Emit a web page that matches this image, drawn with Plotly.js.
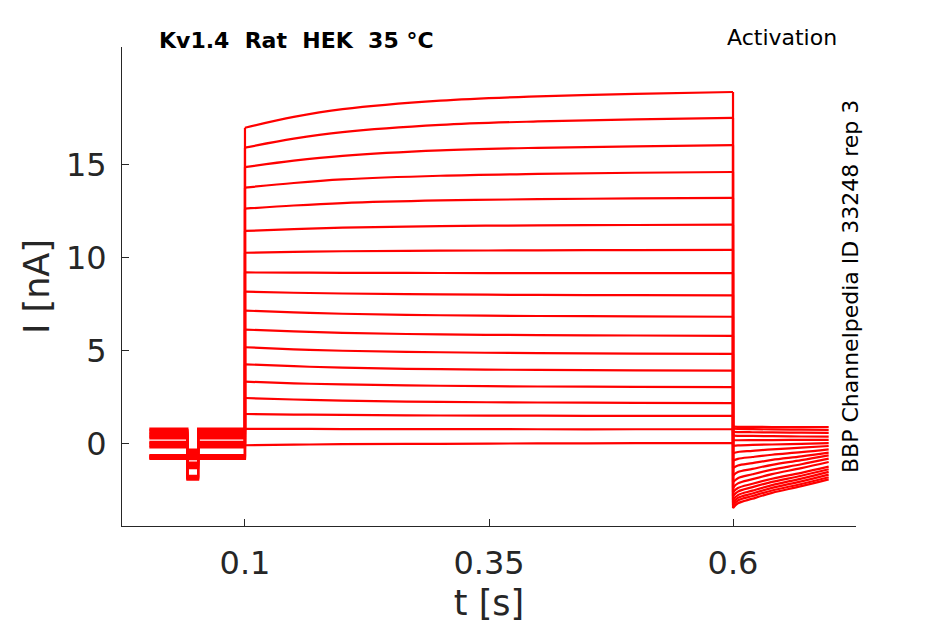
<!DOCTYPE html>
<html>
<head>
<meta charset="utf-8">
<script src="https://cdn.plot.ly/plotly-3.0.1.min.js"></script>
<style>html,body{margin:0;padding:0;background:#fff;}#chart{width:945px;height:624px;}</style>
</head>
<body>
<div id="chart"></div>
<script>
// ---- data ----
const preStart = 0.002;
const dipStart = 0.041;
const dipEnd = 0.052;
const stepStart = 0.1;
const stepEnd = 0.6;

// holding current before the step, per sweep (nA)
const preI = [0.82, 0.30, -0.60, 0.75, 0.12, -0.65, 0.68, 0.05, -0.70, 0.60, -0.02, -0.75, 0.52, -0.10, -0.80, 0.45, -0.18, 0.38];
// current during the short test pulse, per sweep (nA)
const dipI = [-0.30, -0.82, -1.72, -0.38, -1.00, -1.77, -0.45, -1.07, -1.82, -0.52, -1.14, -1.86, -0.60, -1.22, -1.92, -0.67, -1.30, -0.75];

// activation step
const stepTimes = [0.1, 0.15, 0.2, 0.3, 0.4, 0.5, 0.6];
const stepI = [
  [17.00, 17.58, 18.00, 18.46, 18.69, 18.82, 18.92],
  [15.93, 16.41, 16.76, 17.15, 17.34, 17.45, 17.53],
  [14.88, 15.23, 15.49, 15.78, 15.92, 16.00, 16.06],
  [13.78, 14.03, 14.22, 14.42, 14.52, 14.58, 14.62],
  [12.65, 12.82, 12.95, 13.09, 13.16, 13.20, 13.23],
  [11.45, 11.55, 11.63, 11.71, 11.75, 11.77, 11.79],
  [10.28, 10.33, 10.36, 10.39, 10.41, 10.42, 10.43],
  [9.22, 9.21, 9.20, 9.19, 9.18, 9.18, 9.18],
  [8.19, 8.13, 8.09, 8.04, 8.01, 8.00, 7.99],
  [7.17, 7.07, 7.00, 6.92, 6.88, 6.86, 6.84],
  [6.15, 6.05, 5.97, 5.89, 5.85, 5.83, 5.81],
  [5.20, 5.09, 5.01, 4.93, 4.88, 4.86, 4.84],
  [4.28, 4.18, 4.10, 4.02, 3.98, 3.96, 3.94],
  [3.35, 3.26, 3.20, 3.13, 3.09, 3.07, 3.06],
  [2.47, 2.39, 2.33, 2.26, 2.23, 2.21, 2.20],
  [1.61, 1.58, 1.56, 1.53, 1.52, 1.51, 1.51],
  [0.81, 0.81, 0.80, 0.80, 0.79, 0.79, 0.79],
  [-0.07, -0.04, -0.01, 0.01, 0.03, 0.04, 0.04]
];

// tail currents after the step
const tailTimes = [0.6, 0.605, 0.62, 0.64, 0.67, 0.698];
const tailI = [
  [-3.45, -3.19, -2.94, -2.63, -2.27, -1.90],
  [-3.30, -3.04, -2.80, -2.50, -2.15, -1.79],
  [-3.15, -2.90, -2.66, -2.36, -2.01, -1.65],
  [-3.00, -2.75, -2.51, -2.21, -1.86, -1.50],
  [-2.80, -2.56, -2.32, -2.04, -1.71, -1.36],
  [-2.60, -2.37, -2.14, -1.87, -1.55, -1.22],
  [-2.35, -2.12, -1.89, -1.62, -1.30, -0.97],
  [-2.05, -1.84, -1.63, -1.38, -1.09, -0.79],
  [-1.70, -1.51, -1.34, -1.12, -0.87, -0.61],
  [-1.30, -1.16, -1.03, -0.86, -0.67, -0.47],
  [-0.90, -0.80, -0.70, -0.58, -0.44, -0.29],
  [-0.50, -0.43, -0.37, -0.29, -0.20, -0.11],
  [-0.10, -0.08, -0.05, -0.03, 0.01, 0.04],
  [0.20, 0.20, 0.21, 0.21, 0.22, 0.22],
  [0.45, 0.44, 0.43, 0.42, 0.40, 0.39],
  [0.65, 0.64, 0.63, 0.62, 0.61, 0.60],
  [0.82, 0.81, 0.80, 0.78, 0.77, 0.75],
  [0.93, 0.92, 0.92, 0.91, 0.91, 0.90]
];

const xTickVals = [0.1, 0.35, 0.6];
const xTickText = ['0.1', '0.35', '0.6'];
const yTickVals = [0, 5, 10, 15];
const yTickText = ['0', '5', '10', '15'];

// ---- build traces ----
const RED = '#ff0000';
const LW = 2.2;
const traces = [];
for (let k = 0; k < stepI.length; k++) {
  const s = stepI[k];
  const tl = tailI[k];
  // pre-pulse with test pulse and jump to step
  traces.push({
    type: 'scatter', mode: 'lines', hoverinfo: 'skip', showlegend: false,
    x: [preStart, dipStart, dipStart, dipEnd, dipEnd, stepStart, stepStart],
    y: [preI[k], preI[k], dipI[k], dipI[k], preI[k], preI[k], s[0]],
    line: {color: RED, width: LW, shape: 'linear'}
  });
  // step
  traces.push({
    type: 'scatter', mode: 'lines', hoverinfo: 'skip', showlegend: false,
    x: stepTimes, y: s,
    line: {color: RED, width: LW, shape: 'spline', smoothing: 1}
  });
  // jump at end of step
  traces.push({
    type: 'scatter', mode: 'lines', hoverinfo: 'skip', showlegend: false,
    x: [stepEnd, stepEnd], y: [s[s.length - 1], tl[0]],
    line: {color: RED, width: LW, shape: 'linear'}
  });
  // tail
  traces.push({
    type: 'scatter', mode: 'lines', hoverinfo: 'skip', showlegend: false,
    x: tailTimes, y: tl,
    line: {color: RED, width: LW, shape: 'spline', smoothing: 1}
  });
}

const FONT = 'DejaVu Sans';
const AX = '#262626';
const layout = {
  width: 945, height: 624, autosize: false,
  margin: {l: 122, r: 89, t: 47, b: 98, pad: 0},
  paper_bgcolor: '#ffffff', plot_bgcolor: '#ffffff',
  font: {family: FONT, color: AX},
  showlegend: false,
  xaxis: {
    range: [-0.026, 0.726], tickmode: 'array', tickvals: xTickVals, ticktext: xTickText,
    ticks: 'inside', ticklen: 7, tickwidth: 1, tickcolor: AX,
    showline: true, linecolor: AX, linewidth: 1, mirror: false,
    showgrid: false, zeroline: false,
    tickfont: {family: FONT, size: 32, color: AX},
    ticklabelstandoff: 9,
    title: {text: 't [s]', font: {family: FONT, size: 35, color: AX}, standoff: 9}
  },
  yaxis: {
    range: [-4.41, 21.34], tickmode: 'array', tickvals: yTickVals, ticktext: yTickText,
    ticks: 'inside', ticklen: 7, tickwidth: 1, tickcolor: AX,
    showline: true, linecolor: AX, linewidth: 1, mirror: false,
    showgrid: false, zeroline: false,
    tickfont: {family: FONT, size: 32, color: AX},
    ticklabelstandoff: 8,
    title: {text: 'I [nA]', font: {family: FONT, size: 35, color: AX}, standoff: 5}
  },
  annotations: [
    {xref: 'paper', yref: 'paper', x: 0.2384, y: 1.0146, xanchor: 'center', yanchor: 'middle',
     text: '<b>Kv1.4  Rat  HEK  35 °C</b>', showarrow: false,
     font: {family: FONT, size: 22, color: '#000000'}},
    {xref: 'paper', yref: 'paper', x: 0.899, y: 1.0188, xanchor: 'center', yanchor: 'middle',
     text: 'Activation', showarrow: false,
     font: {family: FONT, size: 22, color: '#000000'}},
    {xref: 'paper', yref: 'paper', x: 0.9918, y: 0.501, xanchor: 'center', yanchor: 'middle',
     text: 'BBP Channelpedia ID 33248 rep 3', textangle: -90, showarrow: false,
     font: {family: FONT, size: 22, color: '#000000'}}
  ]
};

Plotly.newPlot('chart', traces, layout, {staticPlot: true, displayModeBar: false});
</script>
</body>
</html>
